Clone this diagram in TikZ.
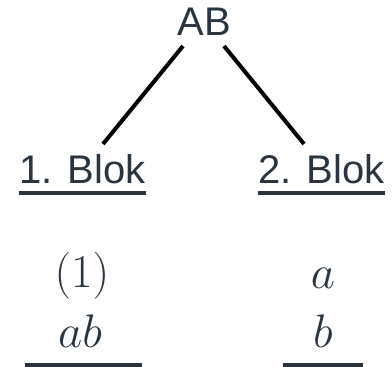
\RequirePackage{fix-cm}
\documentclass[tikz,border=0pt]{standalone}
\usepackage[no-math]{fontspec}
\setmainfont{Liberation Sans}
\definecolor{ink}{HTML}{2B3540}
\tikzset{
  txt/.style={inner sep=0pt, text=ink, font=\fontsize{40}{48}\selectfont, anchor=base},
  mth/.style={inner sep=0pt, text=ink, font=\fontsize{47}{56}\selectfont, anchor=base},
  edge/.style={line width=4pt, black},
  ul/.style={line width=4pt, ink},
  ulb/.style={line width=5pt, ink}
}
\begin{document}
\begin{tikzpicture}[x=1pt,y=1pt]
\useasboundingbox (0,0) rectangle (392,-367);
\node[txt] (AB) at (204,-35) {AB};
\node[txt] (b1) at (82.5,-183) {1. Blok};
\node[txt] (b2) at (321.5,-183) {2. Blok};
\coordinate (e1s) at (183,-46);
\coordinate (e1e) at (103,-144);
\coordinate (e2s) at (224,-46);
\coordinate (e2e) at (304,-144);
\draw[edge] (e1s) -- (e1e);
\draw[edge] (e2s) -- (e2e);
\draw[ul] ([yshift=-9.5pt]b1.base west) -- ([yshift=-9.5pt]b1.base east);
\draw[ul] ([yshift=-9.5pt]b2.base west) -- ([yshift=-9.5pt]b2.base east);
\node[mth] (p1) at (82,-287) {$(1)$};
\node[mth] (ab) at (80,-347) {$ab$};
\node[mth] (a) at (323,-288) {$a$};
\node[mth] (b) at (323,-347) {$b$};
\coordinate (u1s) at (25,-365);
\coordinate (u1e) at (142,-365);
\coordinate (u2s) at (283,-365);
\coordinate (u2e) at (363,-365);
\draw[ulb] (u1s) -- (u1e);
\draw[ulb] (u2s) -- (u2e);
\end{tikzpicture}
\end{document}
